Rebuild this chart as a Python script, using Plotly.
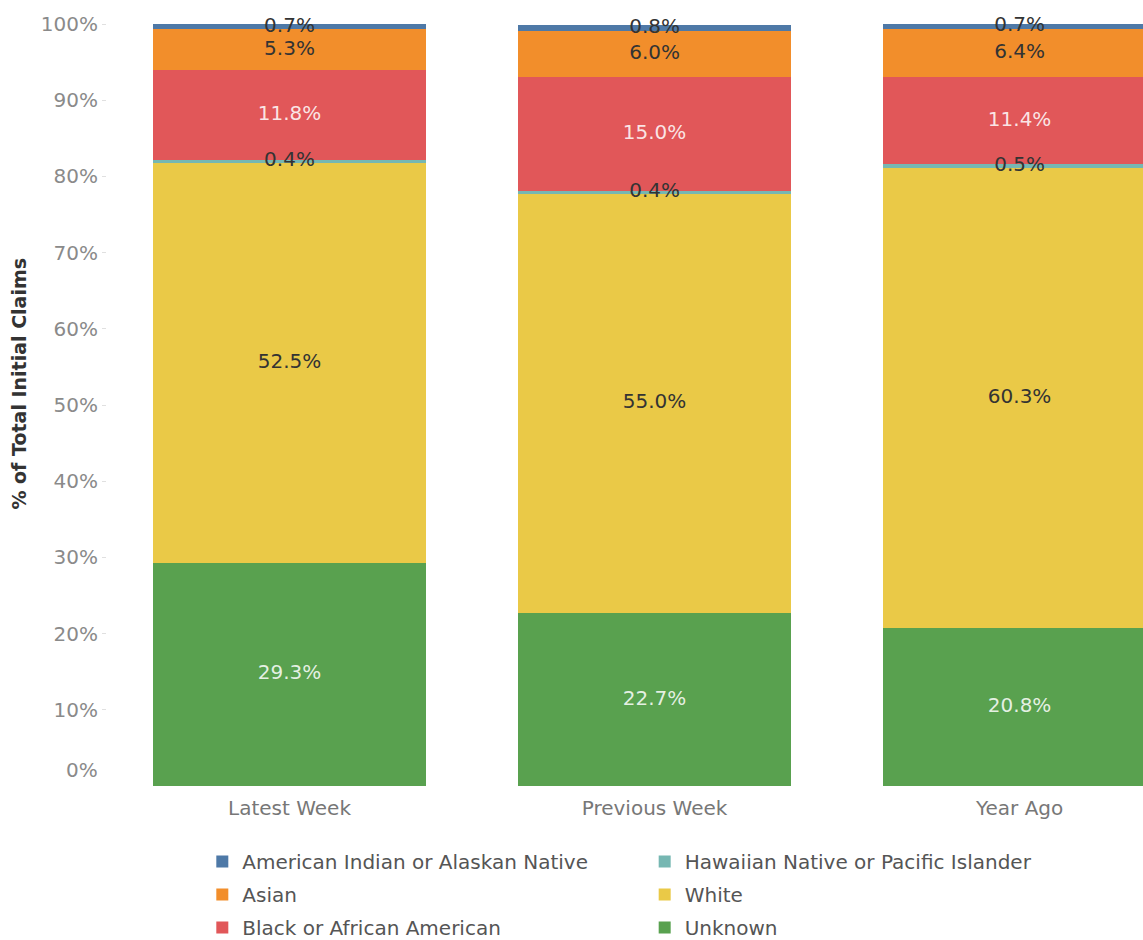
import plotly.graph_objects as go

periods = ["Latest Week", "Previous Week", "Year Ago"]
unknown = [29.3, 22.7, 20.8]
white = [52.5, 55.0, 60.3]
hawaiian = [0.4, 0.4, 0.5]
black = [11.8, 15.0, 11.4]
asian = [5.3, 6.0, 6.4]
am_indian = [0.7, 0.8, 0.7]
y_ticks = [10, 20, 30, 40, 50, 60, 70, 80, 90, 100]

# stacking order bottom -> top: (name, values, colour, label colour, legend, legend rank)
series = [
    ("Unknown", unknown, "#59a14f", "rgba(255,255,255,0.85)", "legend2", 3),
    ("White", white, "#eac947", "#333333", "legend2", 2),
    ("Hawaiian Native or Pacific Islander", hawaiian, "#76b7b2", "#333333", "legend2", 1),
    ("Black or African American", black, "#e15759", "rgba(255,255,255,0.85)", "legend", 3),
    ("Asian", asian, "#f28e2b", "#333333", "legend", 2),
    ("American Indian or Alaskan Native", am_indian, "#4e79a7", "#333333", "legend", 1),
]

FONT = "'DejaVu Sans', sans-serif"
fig = go.Figure()
base = [0.0] * len(periods)
label_x, label_y, label_t, label_c = [], [], [], []
for name, vals, color, tcolor, leg, rank in series:
    fig.add_trace(go.Bar(
        x=periods, y=vals, base=base, name=name,
        marker=dict(color=color, line=dict(width=0)),
        width=0.748, legend=leg, legendgroup=name, legendrank=rank,
        hoverinfo="skip",
    ))
    for i, v in enumerate(vals):
        label_x.append(periods[i])
        label_y.append(base[i] + v / 2)
        label_t.append(f"{v:.1f}%")
        label_c.append(tcolor)
    base = [b + v for b, v in zip(base, vals)]

fig.add_trace(go.Scatter(
    x=label_x, y=label_y, text=label_t, mode="text",
    textfont=dict(size=20, color=label_c, family=FONT),
    showlegend=False, cliponaxis=False, hoverinfo="skip",
))

fig.add_annotation(
    x=0, xref="paper", y=0, yref="y", text="0%", showarrow=False,
    xanchor="right", yanchor="middle", xshift=-7, yshift=16,
    font=dict(size=20, color="#8a8a8a", family=FONT),
)
fig.add_annotation(
    x=-0.085, xref="paper", y=0.528, yref="paper",
    text="<b>% of Total Initial Claims</b>", showarrow=False, textangle=-90,
    xanchor="center", yanchor="middle",
    font=dict(size=19, color="#333333", family=FONT),
)

legend_style = dict(
    y=-0.0735, xanchor="left", yanchor="top",
    font=dict(size=20, color="#555555", family=FONT),
    tracegroupgap=4, traceorder="grouped", bgcolor="rgba(0,0,0,0)",
)

fig.update_layout(
    width=1143, height=940,
    margin=dict(l=107, r=0, t=24, b=154, autoexpand=False),
    paper_bgcolor="white", plot_bgcolor="white",
    barmode="overlay", bargap=0,
    font=dict(family=FONT),
    showlegend=True,
    legend=dict(x=0.092, **legend_style),
    legend2=dict(x=0.519, **legend_style),
    xaxis=dict(
        range=[-0.5, 2.338], showgrid=False, zeroline=False, showline=False,
        ticks="", ticklabelstandoff=8, automargin=False,
        tickfont=dict(size=20, color="#777777", family=FONT),
        fixedrange=True,
    ),
    yaxis=dict(
        range=[0, 100], tickvals=y_ticks, ticktext=[f"{v}%" for v in y_ticks],
        showgrid=False, zeroline=False, showline=False, automargin=False,
        ticks="outside", ticklen=4, tickcolor="#e0e0e0",
        tickfont=dict(size=20, color="#8a8a8a", family=FONT),
        fixedrange=True,
    ),
)

fig.write_html(
    "out.html",
    config={"displayModeBar": False},
    post_script="document.body.style.margin='0';document.body.style.overflow='hidden';",
)
